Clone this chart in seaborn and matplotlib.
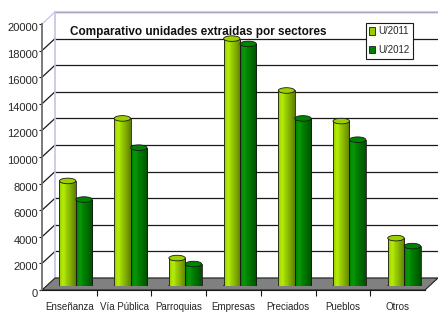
import numpy as np
import pandas as pd
import seaborn as sns
import matplotlib.pyplot as plt
from matplotlib.patches import Polygon, Ellipse, Patch
from matplotlib.lines import Line2D
from matplotlib.colors import to_rgb
from matplotlib import transforms

sectores = ["Enseñanza", "Vía Pública", "Parroquias", "Empresas", "Preciados", "Pueblos", "Otros"]
u2011 = [7900, 12600, 2100, 18600, 14700, 12400, 3600]
u2012 = [6500, 10400, 1650, 18200, 12600, 11000, 3000]
series = ["U/2011", "U/2012"]
yticks = list(range(0, 20001, 2000))
colores = ["#99CC00", "#008000"]

df = pd.DataFrame({
    "Sector": sectores * 2,
    "Unidades": u2011 + u2012,
    "Serie": [series[0]] * len(sectores) + [series[1]] * len(sectores),
})

sns.set_theme(style="white")
plt.rcParams["font.family"] = ["Liberation Sans", "DejaVu Sans"]
narrow = ["Liberation Sans Narrow", "Liberation Sans", "DejaVu Sans"]

W, H = 438, 314
fig = plt.figure(figsize=(W / 100, H / 100), dpi=100)


def box(x0, top, w, h):
    # pixel box (top-left origin) -> figure fraction
    return [x0 / W, 1 - (top + h) / H, w / W, h / H]


ax_back = fig.add_axes(box(55, 12, 383, 266))
ax_bars = fig.add_axes(box(48.5, 20, 383, 266))
ax_front = fig.add_axes(box(42, 24, 383, 266))

n = len(sectores)
for ax in (ax_back, ax_bars, ax_front):
    ax.set_xlim(-0.5, n - 0.5)
    ax.set_ylim(0, 20000)

# back wall
ax_back.set_facecolor("white")
ax_back.set_yticks(yticks)
ax_back.set_xticks([])
ax_back.tick_params(labelleft=False, length=0)
ax_back.grid(axis="y", color="#1a1a1a", lw=0.9)
for s in ("right", "bottom"):
    ax_back.spines[s].set_visible(False)
for s in ("top", "left"):
    ax_back.spines[s].set_color("#C4C4E4")
    ax_back.spines[s].set_linewidth(1.2)


def to_fig(ax, x, y):
    return fig.transFigure.inverted().transform(ax.transData.transform((x, y)))


# floor
floor = [to_fig(ax_front, -0.5, 0), to_fig(ax_front, n - 0.5, 0),
         to_fig(ax_back, n - 0.5, 0), to_fig(ax_back, -0.5, 0)]
ax_back.add_patch(Polygon(floor, closed=True, facecolor="#808080", edgecolor="#202020",
                          lw=0.8, transform=fig.transFigure, clip_on=False, zorder=5))

# side wall lines
for v in yticks[1:]:
    p1 = to_fig(ax_front, -0.5, v)
    p2 = to_fig(ax_back, -0.5, v)
    col = "#C4C4E4" if v == 20000 else "#1a1a1a"
    ax_back.add_line(Line2D([p1[0], p2[0]], [p1[1], p2[1]], color=col, lw=0.9,
                            transform=fig.transFigure, clip_on=False))

# bars
sns.barplot(data=df, x="Sector", y="Unidades", hue="Serie", palette=colores,
            width=0.6, saturation=1, edgecolor="#1a1a1a", linewidth=0.6,
            legend=False, ax=ax_bars)
ax_bars.set_xlim(-0.5, n - 0.5)
ax_bars.set_ylim(0, 20000)
ax_bars.axis("off")

eh = 420  # ellipse height in data units
for p in list(ax_bars.patches):
    x, w, h = p.get_x(), p.get_width(), p.get_height()
    if w <= 0:
        continue
    base = np.array(to_rgb(p.get_facecolor()))
    t = np.linspace(0, 1, 40)
    shade = np.interp(t, [0, 0.25, 0.55, 1], [1.0, 1.12, 0.95, 0.62])
    grad = np.clip(base[None, :] * shade[:, None] + (shade[:, None] > 1.05) * 0.03, 0, 1)
    ax_bars.add_patch(Ellipse((x + w / 2, 0), w, eh, facecolor=base * 0.8,
                              edgecolor="#1a1a1a", lw=0.6, zorder=1.5))
    im = ax_bars.imshow(grad[None, :, :], extent=[x, x + w, 0, h], aspect="auto",
                        zorder=2, interpolation="bilinear")
    im.set_clip_path(p)
    p.set_zorder(2.5)
    p.set_facecolor("none")
    ax_bars.add_patch(Ellipse((x + w / 2, h), w, eh, facecolor=np.clip(base * 1.02, 0, 1),
                              edgecolor="#1a1a1a", lw=0.6, zorder=3))
ax_bars.set_xlim(-0.5, n - 0.5)
ax_bars.set_ylim(0, 20000)

# front axis
ax_front.set_facecolor("none")
ax_front.patch.set_alpha(0)
for s in ("top", "right"):
    ax_front.spines[s].set_visible(False)
ax_front.spines["left"].set_color("#707070")
ax_front.spines["left"].set_linewidth(1.3)
ax_front.spines["bottom"].set_color("#1a1a1a")
ax_front.spines["bottom"].set_linewidth(0.8)
ax_front.set_yticks(yticks)
ax_front.set_yticklabels([str(v) for v in yticks], fontsize=8)
ax_front.set_xticks(range(n))
ax_front.set_xticklabels(sectores, fontsize=7, family=narrow)
ax_front.set_xticks(np.arange(0.5, n - 1, 1), minor=True)
ax_front.tick_params(axis="x", which="major", length=0, pad=9)
ax_front.tick_params(axis="x", which="minor", length=4, width=0.8, color="#1a1a1a", bottom=True)
ax_front.tick_params(axis="y", length=2, width=0.8, pad=1, color="#1a1a1a", left=True)
shift = transforms.ScaledTranslation(0, -3 / 100, fig.dpi_scale_trans)
for lab in ax_front.get_yticklabels():
    lab.set_transform(lab.get_transform() + shift)

fig.text(70 / W, 1 - 32 / H, "Comparativo unidades extraidas por sectores",
         fontsize=8.5, fontweight="bold", ha="left", va="center", color="#111111")

handles = [Patch(facecolor=c, edgecolor="#1a1a1a", lw=0.6) for c in colores]
leg = fig.legend(handles, series, loc="upper left", bbox_to_anchor=(366 / W, 1 - 23 / H),
                 fontsize=7, frameon=True, fancybox=False, handlelength=0.55,
                 handleheight=0.8, handletextpad=0.35, borderpad=0.35,
                 labelspacing=0.9, borderaxespad=0)
leg.get_frame().set_edgecolor("#1a1a1a")
leg.get_frame().set_linewidth(0.8)
leg.get_frame().set_alpha(1)

fig.savefig("out.png", dpi=100)
